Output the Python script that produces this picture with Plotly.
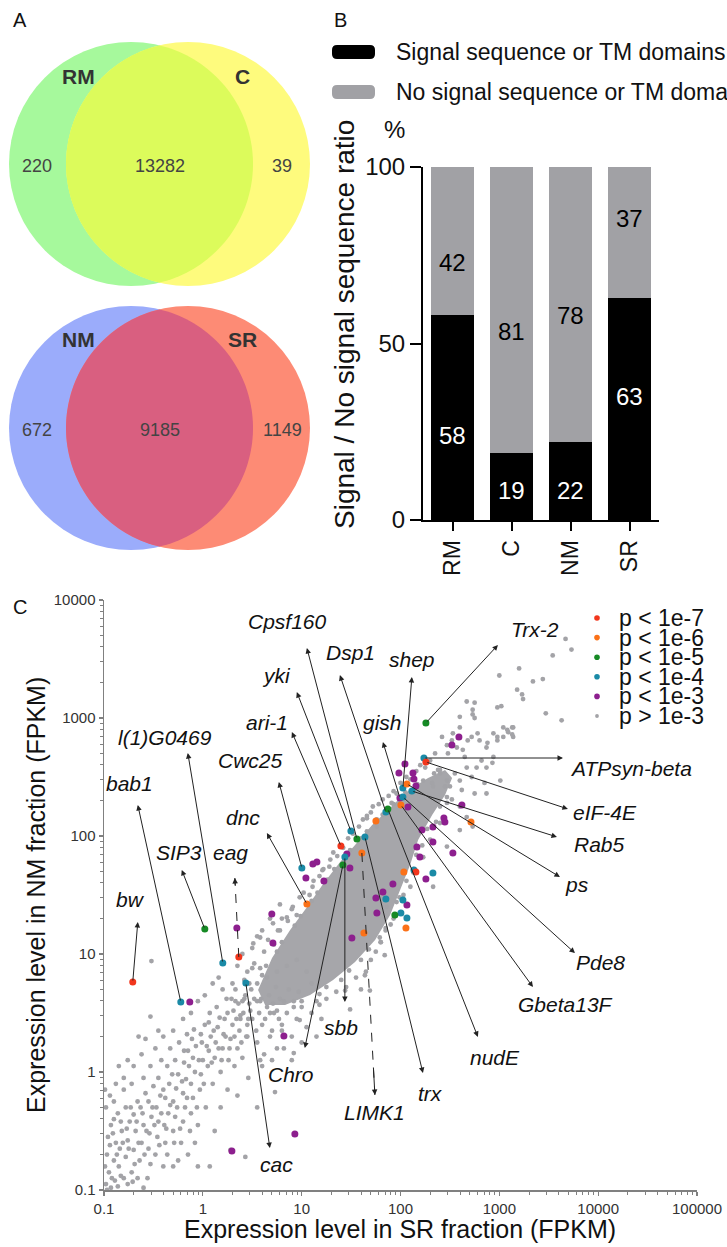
import numpy as np
import plotly.graph_objects as go

W, H = 727, 1247
FONT = "Liberation Sans, Arial, Helvetica, sans-serif"

# ---------------- Panel A : Venn counts ----------------
venn1_sets = ["RM", "C"]
venn1_counts = [220, 13282, 39]      # RM only, shared, C only
venn2_sets = ["NM", "SR"]
venn2_counts = [672, 9185, 1149]     # NM only, shared, SR only

# ---------------- Panel B : stacked percentages ----------------
fractions = ["RM", "C", "NM", "SR"]
signal_pct = [58, 19, 22, 63]
no_signal_pct = [42, 81, 78, 37]
series_names = ["Signal sequence or TM domains", "No signal sequence or TM domains"]

# ---------------- Panel C : scatter (log10 FPKM) ----------------
p_classes = ["p < 1e-7", "p < 1e-6", "p < 1e-5", "p < 1e-4", "p < 1e-3", "p > 1e-3"]
p_colors = ["#f2361c", "#fb7118", "#168a25", "#1a8aa6", "#8d1f8e", "#a3a3a7"]
tick_vals = [0.1, 1, 10, 100, 1000, 10000, 100000]
tick_text = ["0.1", "1", "10", "100", "1000", "10000", "100000"]

# labelled genes: name, log10 SR, log10 NM, p-class index
gene_names = ["bw", "eag", "ari-1", "eIF-4E", "dnc", "LIMK1", "ps", "Gbeta13F",
              "SIP3", "Cpsf160", "Chro", "nudE", "Trx-2", "bab1", "l(1)G0469",
              "cac", "Cwc25", "yki", "sbb", "trx", "Dsp1", "shep", "Pde8", "Rab5",
              "ATPsyn-beta", "gish"]
gene_log_sr = [-0.709, 0.364, 1.397, 2.257, 1.053, 1.609, 2.065, 2.004,
               0.020, 1.559, 1.417, 1.872, 2.257, -0.223, 0.202,
               0.435, 1.002, 1.498, 1.437, 1.640, 1.852, 2.024, 2.024, 2.115,
               2.237, 1.994]
gene_log_nm = [0.763, 0.975, 1.915, 2.627, 1.424, 1.856, 2.441, 2.263,
               1.212, 1.975, 1.754, 2.229, 2.958, 0.593, 0.924,
               0.754, 1.729, 2.042, 1.822, 1.992, 2.203, 2.407, 2.331, 2.381,
               2.661, 2.322]
gene_class = [0, 0, 0, 0, 1, 1, 1, 1,
              2, 2, 2, 2, 2, 3, 3,
              3, 3, 3, 3, 3, 3, 3, 3, 3,
              3, 4]

# other significant genes (log10 SR, log10 NM)
red_other = [(2.156, 1.695)]
orange_other = [(1.751, 2.127), (2.713, 2.119), (2.034, 1.695), (2.055, 1.220), (1.630, 1.178)]
green_other = [(1.943, 1.331)]
teal_other = [(2.136, 1.712), (2.328, 1.686), (1.852, 1.466), (2.024, 1.458), (2.004, 1.347), (2.065, 1.305)]
purple_other = [(-0.132, 0.593), (0.344, 1.220), (0.698, 1.339), (0.709, 1.093), (1.508, 1.136),
                (0.820, 0.305), (0.931, -0.525), (0.294, -0.669), (1.043, 1.644), (1.113, 1.763),
                (1.154, 1.780), (1.225, 1.619), (1.457, 1.847), (1.488, 1.729), (2.045, 2.610),
                (1.984, 2.534), (2.126, 2.534), (2.136, 2.483), (2.156, 2.424), (2.075, 2.246),
                (2.591, 2.839), (2.520, 2.771), (2.621, 2.263), (2.439, 2.153), (2.449, 2.119),
                (2.328, 2.076), (2.217, 2.051), (2.328, 1.949), (2.196, 1.822), (2.166, 1.907),
                (2.530, 1.856), (2.257, 1.636), (1.923, 1.593), (1.822, 1.525), (1.751, 1.475),
                (1.761, 1.347), (2.065, 1.415)]

# dense, saturated core of the non-significant cloud (outline, log10 SR / NM)
core_log_sr = [0.559, 0.700, 0.883, 1.055, 1.217, 1.389, 1.540, 1.713, 1.874, 1.996, 2.117, 2.279,
               2.451, 2.522, 2.451, 2.320, 2.178, 2.097, 1.996, 1.895, 1.743, 1.540, 1.318, 1.085,
               0.832, 0.630]
core_log_nm = [0.695, 0.966, 1.203, 1.398, 1.593, 1.780, 1.924, 2.093, 2.220, 2.322, 2.407, 2.492,
               2.559, 2.492, 2.347, 2.178, 1.966, 1.754, 1.542, 1.331, 1.119, 0.932, 0.780, 0.653,
               0.568, 0.568]

# individual non-significant genes
gray_low = [(-0.98, -0.95), (-0.95, -0.85), (-0.97, -0.7), (-0.92, -0.9), (-0.9, -0.75), (-0.88, -0.6),
            (-0.96, -0.55), (-0.93, -0.45), (-0.85, -0.8), (-0.84, -0.65), (-0.82, -0.5), (-0.86, -0.35),
            (-0.9, -0.25), (-0.8, -0.9), (-0.78, -0.72), (-0.76, -0.58), (-0.74, -0.42), (-0.78, -0.3),
            (-0.8, -0.15), (-0.72, -0.85), (-0.7, -0.66), (-0.68, -0.5), (-0.7, -0.36), (-0.66, -0.25),
            (-0.72, -0.1), (-0.64, -0.75), (-0.62, -0.6), (-0.6, -0.45), (-0.63, -0.3), (-0.58, -0.18),
            (-0.6, -0.05), (-0.56, -0.9), (-0.55, -0.65), (-0.54, -0.52), (-0.52, -0.38), (-0.55, -0.25),
            (-0.5, -0.12), (-0.53, 0.05), (-0.48, -0.7), (-0.46, -0.55), (-0.45, -0.42), (-0.47, -0.3),
            (-0.43, -0.2), (-0.45, -0.05), (-0.42, 0.1), (-0.4, -0.8), (-0.38, -0.6), (-0.37, -0.48),
            (-0.35, -0.35), (-0.38, -0.22), (-0.34, -0.1), (-0.36, 0.05), (-0.33, 0.2), (-0.3, -0.5),
            (-0.28, -0.38), (-0.3, -0.25), (-0.27, -0.14), (-0.25, -0.02), (-0.28, 0.1), (-0.24, 0.25),
            (-0.22, -0.6), (-0.2, -0.42), (-0.18, -0.3), (-0.2, -0.18), (-0.17, -0.06), (-0.19, 0.08),
            (-0.15, 0.18), (-0.16, 0.32), (-0.12, -0.35), (-0.1, -0.22), (-0.12, -0.1), (-0.08, 0.0),
            (-0.1, 0.12), (-0.07, 0.22), (-0.09, 0.36), (-0.05, -0.45), (-0.03, -0.15), (-0.02, -0.02),
            (0.0, 0.1), (-0.01, 0.25), (0.02, 0.4), (0.03, -0.3), (0.05, 0.05), (0.06, 0.18), (0.08, 0.3),
            (0.07, 0.5), (0.1, -0.1), (0.12, 0.12), (0.13, 0.25), (0.15, 0.38), (0.14, 0.55), (0.18, 0.0),
            (0.2, 0.2), (0.21, 0.32), (0.22, 0.45), (0.24, 0.62), (0.26, 0.1), (0.28, 0.28), (0.3, 0.4),
            (0.31, 0.52), (0.33, 0.7), (0.35, 0.2), (0.37, 0.35), (0.38, 0.48), (0.4, 0.6), (0.42, 0.78),
            (0.44, 0.3), (0.46, 0.45), (0.47, 0.58), (0.49, 0.7), (0.5, 0.88)]
gray_low2 = [(-0.99, -0.8), (-0.94, -0.62), (-0.91, -0.52), (-0.87, -0.7), (-0.83, -0.42), (-0.81, -0.6),
             (-0.77, -0.48), (-0.75, -0.65), (-0.73, -0.3), (-0.69, -0.78), (-0.67, -0.42), (-0.65, -0.6),
             (-0.61, -0.35), (-0.59, -0.7), (-0.57, -0.5), (-0.53, -0.78), (-0.51, -0.3), (-0.49, -0.45),
             (-0.44, -0.62), (-0.42, -0.35), (-0.4, -0.15), (-0.39, -0.45), (-0.36, -0.7), (-0.33, -0.28),
             (-0.31, -0.02), (-0.29, -0.6), (-0.26, -0.3), (-0.23, -0.48), (-0.21, -0.08), (-0.19, 0.18),
             (-0.16, -0.22), (-0.14, 0.05), (-0.13, -0.5), (-0.11, 0.28), (-0.06, -0.3), (-0.04, 0.1),
             (-0.02, 0.32), (0.01, -0.1), (0.04, 0.22), (0.06, 0.42), (0.09, 0.08), (0.11, 0.35), (0.16, 0.2),
             (0.17, 0.46), (0.19, 0.1), (0.23, 0.3), (0.25, 0.5), (0.27, 0.2), (0.29, 0.62), (0.32, 0.3),
             (0.34, 0.45), (0.36, 0.58), (0.39, 0.25), (0.41, 0.5), (0.43, 0.65), (0.45, 0.4), (0.48, 0.52),
             (0.52, 0.62), (0.54, 0.35), (0.57, 0.5), (0.59, 0.62), (0.63, 0.45), (0.67, 0.65), (0.71, 0.58),
             (0.74, 0.72), (0.77, 0.45), (0.82, 0.6), (0.87, 0.7), (0.92, 0.6), (0.97, 0.68), (-0.97, -1.0),
             (-0.93, -0.98), (-0.89, -0.92), (-0.86, -0.97), (-0.83, -0.88), (-0.76, -0.95), (-0.71, -0.93),
             (-0.66, -0.9), (-0.9, -0.4), (-0.94, -0.2), (-0.88, -0.1), (-0.8, -0.05), (-0.76, 0.1),
             (-0.7, 0.05), (-0.62, 0.15), (-0.58, 0.28), (-0.48, 0.2), (-0.45, 0.35), (-0.4, 0.3),
             (-0.3, 0.35), (-0.2, 0.45), (-0.12, 0.5), (-0.05, 0.6), (0.02, 0.65), (0.1, 0.75), (0.2, 0.7),
             (-0.3, -0.8), (-0.15, -0.7), (-0.05, -0.8), (0.12, -0.5), (0.18, -0.3), (0.25, -0.15),
             (0.32, 0.05), (0.4, 0.12), (0.46, -0.05), (0.58, 0.1), (0.7, 0.1), (0.82, 0.2)]
gray_outliers = [(-0.52, 0.94), (0.16, 0.8), (-0.53, 0.47), (0.07, -0.8), (0.28, -0.66), (0.43, -0.72),
                 (0.73, -0.17), (0.92, 0.16), (-0.85, 0.05), (-0.65, 0.3), (-0.98, -0.3), (-0.99, -0.15),
                 (0.6, 0.05), (0.55, -0.3), (0.68, 0.3), (0.8, 0.35), (-0.25, -0.75), (-0.6, -0.98),
                 (0.35, -0.2), (-0.08, -0.6)]
gray_mid = [(0.45, 0.85), (0.52, 0.92), (0.58, 0.88), (0.62, 1.02), (0.66, 1.12), (0.72, 1.08), (0.76, 1.2),
            (0.8, 1.3), (0.86, 1.28), (0.9, 1.38), (0.95, 1.33), (0.98, 1.48), (1.02, 1.52), (1.08, 1.5),
            (1.12, 1.62), (1.18, 1.66), (1.22, 1.72), (1.28, 1.74), (1.32, 1.86), (1.36, 1.83), (1.42, 1.9),
            (1.47, 1.98), (1.52, 2.02), (1.58, 2.08), (1.62, 2.14), (1.66, 2.17), (1.7, 2.2), (1.76, 2.08),
            (1.78, 2.27), (1.82, 2.31), (1.88, 2.34), (1.93, 2.38), (1.96, 2.36), (2.0, 2.45), (2.06, 2.5),
            (2.1, 2.48), (2.16, 2.55), (2.2, 2.6), (2.25, 2.58), (2.3, 2.64), (2.35, 2.7), (0.3, 0.75),
            (0.35, 0.9), (0.4, 1.0), (0.5, 1.05), (0.55, 1.15), (0.68, 1.3), (0.78, 1.42), (0.6, 1.2),
            (0.42, 0.62), (0.47, 0.75), (0.51, 1.09), (0.58, 1.14), (0.78, 1.2), (0.71, 1.26), (0.85, 1.31),
            (0.91, 1.4), (1.11, 1.57), (1.21, 1.71), (1.29, 1.8), (1.66, 2.15), (1.72, 2.25), (1.91, 2.28)]
gray_core_edge = [(0.6, 0.82), (0.64, 0.9), (0.75, 1.02), (0.8, 1.1), (0.93, 1.24), (0.99, 1.32), (1.1, 1.45),
                  (1.16, 1.52), (1.26, 1.63), (1.33, 1.72), (1.44, 1.82), (1.49, 1.88), (1.6, 1.98),
                  (1.66, 2.04), (1.76, 2.14), (1.82, 2.18), (1.93, 2.27), (2.05, 2.37), (2.17, 2.44),
                  (2.23, 2.47), (2.34, 2.53), (2.4, 2.56), (2.5, 2.42), (2.47, 2.28), (2.4, 2.25), (2.36, 2.12),
                  (2.27, 2.06), (2.22, 1.92), (2.16, 1.84), (2.13, 1.72), (2.06, 1.62), (2.03, 1.5),
                  (1.96, 1.44), (1.93, 1.3), (1.85, 1.22), (1.8, 1.1), (1.68, 1.04), (1.6, 0.95), (1.48, 0.86),
                  (1.4, 0.78), (1.25, 0.72), (1.18, 0.66), (1.0, 0.6), (0.92, 0.55), (0.75, 0.52), (0.68, 0.5),
                  (0.58, 0.6)]
gray_below = [(0.5, 0.45), (0.55, 0.6), (0.6, 0.4), (0.65, 0.55), (0.7, 0.35), (0.72, 0.5), (0.78, 0.62),
              (0.8, 0.4), (0.85, 0.5), (0.9, 0.3), (0.95, 0.45), (1.0, 0.55), (1.05, 0.38), (1.1, 0.5),
              (1.15, 0.6), (1.2, 0.45), (1.25, 0.62), (1.35, 0.68), (1.45, 0.72), (1.55, 0.8), (1.6, 0.7),
              (1.65, 0.85), (1.7, 0.95), (1.75, 1.02), (1.8, 1.1), (1.85, 1.2), (1.9, 1.25), (0.55, 0.25),
              (0.62, 0.15), (0.75, 0.2), (0.9, 0.1), (1.0, 0.25), (1.15, 0.3), (0.45, 0.3), (0.38, 0.45),
              (0.33, 0.6), (0.55, 0.75), (0.65, 0.8), (0.75, 0.85), (0.85, 0.9), (0.95, 0.95), (1.05, 0.85),
              (1.1, 0.75)]
gray_right = [(2.47, 2.33), (2.60, 2.25), (2.67, 2.16), (2.40, 2.11), (2.60, 2.05), (2.30, 1.97), (2.47, 1.91),
              (2.23, 1.82), (2.13, 1.69), (2.10, 1.57), (1.99, 1.48), (1.86, 1.40), (1.79, 1.14), (2.87, 2.36),
              (2.73, 2.08), (2.33, 1.57), (1.84, 0.99), (1.64, 0.82), (1.44, 0.69), (1.18, 0.57), (0.98, 0.44),
              (1.69, 0.69), (1.49, 0.53)]
gray_upper = [(2.42, 2.84), (2.68, 2.81), (2.78, 2.87), (2.88, 2.79), (2.48, 2.70), (2.65, 2.67), (2.82, 2.64),
              (2.93, 2.62), (2.38, 2.56), (2.55, 2.53), (2.72, 2.50), (2.85, 2.45), (2.45, 2.42), (2.62, 2.39),
              (2.75, 2.36), (2.32, 2.45), (2.52, 2.31), (2.73, 3.07), (2.60, 2.92), (2.52, 2.81), (2.47, 2.77),
              (2.57, 2.75), (2.63, 2.73), (2.72, 2.84), (2.80, 2.81), (2.87, 2.75), (2.94, 2.87), (2.98, 2.81),
              (3.04, 2.84), (3.09, 2.88), (3.13, 2.92), (3.14, 2.84), (2.94, 2.67), (2.87, 2.58), (3.01, 2.47),
              (2.77, 2.58), (2.67, 2.58), (2.60, 2.47), (2.47, 2.47), (2.40, 2.53), (2.33, 2.42)]
gray_tail = [(3.67, 3.67), (3.73, 3.58), (3.54, 3.53), (3.20, 3.42), (3.34, 3.31), (3.44, 3.33), (3.00, 3.36),
             (3.18, 3.24), (3.23, 3.20), (3.24, 3.16), (2.98, 3.09), (3.02, 3.10), (3.47, 3.04), (3.63, 2.98),
             (2.67, 3.14), (2.75, 3.13), (2.73, 3.03), (2.75, 3.00), (3.04, 2.92), (3.08, 2.90), (3.13, 2.86),
             (3.14, 2.92), (2.98, 2.84), (2.60, 3.01), (2.53, 2.87)]

# ---------------- layout helpers (pixel -> paper) ----------------
def pxx(px):
    return px / W


def pxy(py):
    return 1 - py / H


def text_ann(px, py, text, size, color="#111111", xanchor="center", angle=0):
    return dict(xref="paper", yref="paper", x=pxx(px), y=pxy(py), text=text, showarrow=False,
                xanchor=xanchor, yanchor="middle", textangle=angle,
                font=dict(size=size, color=color))


fig = go.Figure()
shapes = []
ann = []

# ---------------- Panel A ----------------
def venn(cx1, cx2, cy, r, c1, c2, c12, sets, counts):
    for cx, col in ((cx1, c1), (cx2, c2)):
        shapes.append(dict(type="circle", xref="paper", yref="paper",
                           x0=pxx(cx - r), x1=pxx(cx + r), y0=pxy(cy + r), y1=pxy(cy - r),
                           fillcolor=col, line=dict(width=0), layer="below"))
    a = (cx2 - cx1) / 2.0
    h = np.sqrt(r * r - a * a)
    th = np.arctan2(h, a)
    t1 = np.linspace(-th, th, 80)
    t2 = np.linspace(np.pi - th, np.pi + th, 80)
    xs = np.concatenate([cx1 + r * np.cos(t1), cx2 + r * np.cos(t2)])
    ys = np.concatenate([cy + r * np.sin(t1), cy + r * np.sin(t2)])
    path = "M " + " L ".join(f"{pxx(x):.5f},{pxy(y):.5f}" for x, y in zip(xs, ys)) + " Z"
    shapes.append(dict(type="path", xref="paper", yref="paper", path=path,
                       fillcolor=c12, line=dict(width=0), layer="below"))
    for txt, px in zip(sets, (78, 243)):
        ann.append(text_ann(px, cy - 88, f"<b>{txt}</b>", 21, "#333333"))
    for val, px in zip(counts, (37, 160, 282)):
        ann.append(text_ann(px, cy + 2, str(val), 18, "#444444"))


venn(131, 188, 164, 122, "#a6f99c", "#fefb7d", "#dcfb5b", venn1_sets, venn1_counts)
venn(131, 188, 428, 122, "#9bacfb", "#fd8b75", "#d95f80", venn2_sets, venn2_counts)

for letter, px, py in (("A", 20, 20), ("B", 340, 20), ("C", 20, 607)):
    ann.append(text_ann(px, py, letter, 20))

# ---------------- Panel B ----------------
BAR_BLACK, BAR_GRAY = "#000000", "#a1a1a5"
fig.add_trace(go.Bar(x=fractions, y=signal_pct, marker=dict(color=BAR_BLACK, line=dict(width=0)),
                     width=0.73, name=series_names[0], xaxis="x", yaxis="y", hoverinfo="skip"))
fig.add_trace(go.Bar(x=fractions, y=no_signal_pct, marker=dict(color=BAR_GRAY, line=dict(width=0)),
                     width=0.73, name=series_names[1], xaxis="x", yaxis="y", hoverinfo="skip"))

signal_label_y = [24, 8.5, 8.5, 35]
nosignal_label_y = [73, 53.5, 58, 85.5]
for cat, v, ly in zip(fractions, signal_pct, signal_label_y):
    ann.append(dict(xref="x", yref="y", x=cat, y=ly, text=str(v), showarrow=False,
                    xanchor="center", yanchor="middle", font=dict(size=24, color="white")))
for cat, v, ly in zip(fractions, no_signal_pct, nosignal_label_y):
    ann.append(dict(xref="x", yref="y", x=cat, y=ly, text=str(v), showarrow=False,
                    xanchor="center", yanchor="middle", font=dict(size=24, color="black")))


def rrect(x0, y0, x1, y1, rad):
    return (f"M {pxx(x0 + rad)},{pxy(y0)} L {pxx(x1 - rad)},{pxy(y0)} "
            f"Q {pxx(x1)},{pxy(y0)} {pxx(x1)},{pxy(y0 + rad)} L {pxx(x1)},{pxy(y1 - rad)} "
            f"Q {pxx(x1)},{pxy(y1)} {pxx(x1 - rad)},{pxy(y1)} L {pxx(x0 + rad)},{pxy(y1)} "
            f"Q {pxx(x0)},{pxy(y1)} {pxx(x0)},{pxy(y1 - rad)} L {pxx(x0)},{pxy(y0 + rad)} "
            f"Q {pxx(x0)},{pxy(y0)} {pxx(x0 + rad)},{pxy(y0)} Z")


for (name, col), py in zip(zip(series_names, (BAR_BLACK, BAR_GRAY)), (52, 92)):
    shapes.append(dict(type="path", xref="paper", yref="paper", path=rrect(332, py - 7, 375, py + 7, 5),
                       fillcolor=col, line=dict(width=0)))
    ann.append(text_ann(394, py, name, 23, xanchor="left"))

ann.append(text_ann(394, 130, "%", 24))
ann.append(text_ann(345, 325, "Signal / No signal sequence ratio", 28, angle=-90))

# ---------------- Panel C ----------------
def to_lin(v):
    return [10 ** a for a in v]


fig.add_trace(go.Scatter(x=to_lin(core_log_sr), y=to_lin(core_log_nm), mode="lines", fill="toself",
                         fillcolor="#a6a6aa", line=dict(width=0, color="#a6a6aa"),
                         xaxis="x2", yaxis="y2", hoverinfo="skip"))
gray_all = (gray_low + gray_low2 + gray_outliers + gray_mid + gray_core_edge + gray_below +
            gray_right + gray_upper + gray_tail)
fig.add_trace(go.Scatter(x=to_lin([p[0] for p in gray_all]), y=to_lin([p[1] for p in gray_all]),
                         mode="markers", marker=dict(size=4.8, color=p_colors[5]),
                         xaxis="x2", yaxis="y2", hoverinfo="skip"))

others = [red_other, orange_other, green_other, teal_other, purple_other]
for k in (4, 3, 2, 1, 0):
    xs = [p[0] for p in others[k]] + [s for s, c in zip(gene_log_sr, gene_class) if c == k]
    ys = [p[1] for p in others[k]] + [n for n, c in zip(gene_log_nm, gene_class) if c == k]
    fig.add_trace(go.Scatter(x=to_lin(xs), y=to_lin(ys), mode="markers",
                             marker=dict(size=7, color=p_colors[k]), name=p_classes[k],
                             xaxis="x2", yaxis="y2", hoverinfo="skip"))

# gene labels: name, text position (log10 SR, log10 NM), arrowhead position, dashed
label_layout = [
    ("Cpsf160", 0.860, 3.814, 1.053, 3.593, False),
    ("Dsp1", 1.498, 3.559, 1.387, 3.364, False),
    ("yki", 0.749, 3.364, 0.951, 3.220, False),
    ("ari-1", 0.648, 2.966, 0.901, 2.881, False),
    ("l(1)G0469", -0.385, 2.839, -0.152, 2.703, False),
    ("Cwc25", 0.486, 2.644, 0.769, 2.458, False),
    ("bab1", -0.739, 2.449, -0.658, 2.263, False),
    ("dnc", 0.405, 2.161, 0.648, 2.025, False),
    ("SIP3", -0.243, 1.856, -0.213, 1.712, False),
    ("eag", 0.283, 1.856, 0.324, 1.644, True),
    ("bw", -0.729, 1.458, -0.658, 1.271, False),
    ("cac", 0.749, -0.788, 0.678, -0.644, False),
    ("Chro", 0.891, -0.017, 1.032, 0.203, False),
    ("sbb", 1.397, 0.381, 1.437, 0.593, False),
    ("LIMK1", 1.741, -0.347, 1.741, -0.195, True),
    ("trx", 2.308, -0.186, 2.227, -0.008, False),
    ("nudE", 2.955, 0.127, 2.783, 0.297, False),
    ("Gbeta13F", 3.674, 0.576, 3.340, 0.720, False),
    ("Pde8", 4.028, 0.924, 3.765, 1.008, False),
    ("ps", 3.785, 1.585, 3.613, 1.653, False),
    ("Rab5", 4.018, 1.924, 3.583, 1.992, False),
    ("eIF-4E", 4.069, 2.203, 3.694, 2.229, False),
    ("ATPsyn-beta", 4.332, 2.576, 3.644, 2.661, False),
    ("gish", 1.822, 2.966, 1.822, 2.797, False),
    ("shep", 2.115, 3.492, 2.115, 3.347, False),
    ("Trx-2", 3.360, 3.746, 2.986, 3.619, False),
]
ARROW = "#222222"
for name, tx, ty, hx, hy, dashed in label_layout:
    i = gene_names.index(name)
    gx, gy = gene_log_sr[i], gene_log_nm[i]
    ann.append(dict(xref="x2", yref="y2", x=tx, y=ty, text=f"<i>{name}</i>", showarrow=False,
                    xanchor="center", yanchor="middle", font=dict(size=21, color="#111111")))
    if dashed:
        fig.add_trace(go.Scatter(x=[10 ** gx, 10 ** hx], y=[10 ** gy, 10 ** hy], mode="lines",
                                 line=dict(color=ARROW, width=1, dash="dash"),
                                 xaxis="x2", yaxis="y2", hoverinfo="skip"))
        sx, sy = hx + 0.12 * (gx - hx), hy + 0.12 * (gy - hy)
    else:
        sx, sy = gx, gy
    ann.append(dict(xref="x2", yref="y2", x=hx, y=hy, ax=sx, ay=sy, axref="x2", ayref="y2",
                    text="", showarrow=True, arrowhead=2, arrowsize=1.1, arrowwidth=1,
                    arrowcolor=ARROW, standoff=0, startstandoff=0))

# legend of panel C
for k, (lab, col) in enumerate(zip(p_classes, p_colors)):
    py = 618 + k * 19.6
    rad = 2.8 if k < 5 else 1.9
    shapes.append(dict(type="circle", xref="paper", yref="paper", x0=pxx(597 - rad), x1=pxx(597 + rad),
                       y0=pxy(py + rad), y1=pxy(py - rad), fillcolor=col, line=dict(width=0)))
    ann.append(text_ann(617, py, lab, 23, xanchor="left"))

ann.append(text_ann(400, 1229, "Expression level in SR fraction (FPKM)", 25))
ann.append(text_ann(36, 895, "Expression level in NM fraction (FPKM)", 25, angle=-90))

AX_GRAY = "#808080"
log_axis = dict(type="log", showgrid=False, zeroline=False, showline=True, linecolor=AX_GRAY,
                linewidth=1.5, ticks="outside", ticklen=4, tickwidth=1.2, tickcolor=AX_GRAY,
                tickmode="array", tickvals=tick_vals, ticktext=tick_text, automargin=False,
                tickfont=dict(size=15, color="#333333"),
                minor=dict(ticks="outside", ticklen=3, tickcolor=AX_GRAY, tickwidth=1,
                           dtick="D1", showgrid=False))

fig.update_layout(
    width=W, height=H, margin=dict(l=0, r=0, t=0, b=0, pad=0, autoexpand=False),
    paper_bgcolor="white", plot_bgcolor="white", showlegend=False, barmode="stack",
    font=dict(family=FONT, color="#111111"),
    xaxis=dict(domain=[423 / W, 659 / W], anchor="y", type="category", range=[-0.5, 3.5],
               showline=True, linecolor="black", linewidth=2, ticks="outside", ticklen=9,
               tickwidth=2, tickcolor="black", tickangle=-90, tickfont=dict(size=23, color="#111111"),
               showgrid=False, automargin=False),
    yaxis=dict(domain=[1 - 520 / H, 1 - 167 / H], anchor="x", range=[0, 100], tickvals=[0, 50, 100],
               showline=True, linecolor="black", linewidth=2, ticks="outside", ticklen=11,
               tickwidth=2, tickcolor="black", tickfont=dict(size=24, color="#111111"),
               showgrid=False, zeroline=False, automargin=False),
    xaxis2=dict(domain=[104 / W, 697 / W], anchor="y2", range=[-1, 5], **log_axis),
    yaxis2=dict(domain=[1 - 1190 / H, 1 - 600 / H], anchor="x2", range=[-1, 4], **log_axis),
    shapes=shapes, annotations=ann,
)

fig.write_html("out.html", config={"displayModeBar": False, "staticPlot": True},
               post_script="document.body.style.margin='0';document.body.style.padding='0';"
                           "document.documentElement.style.overflow='hidden';")
